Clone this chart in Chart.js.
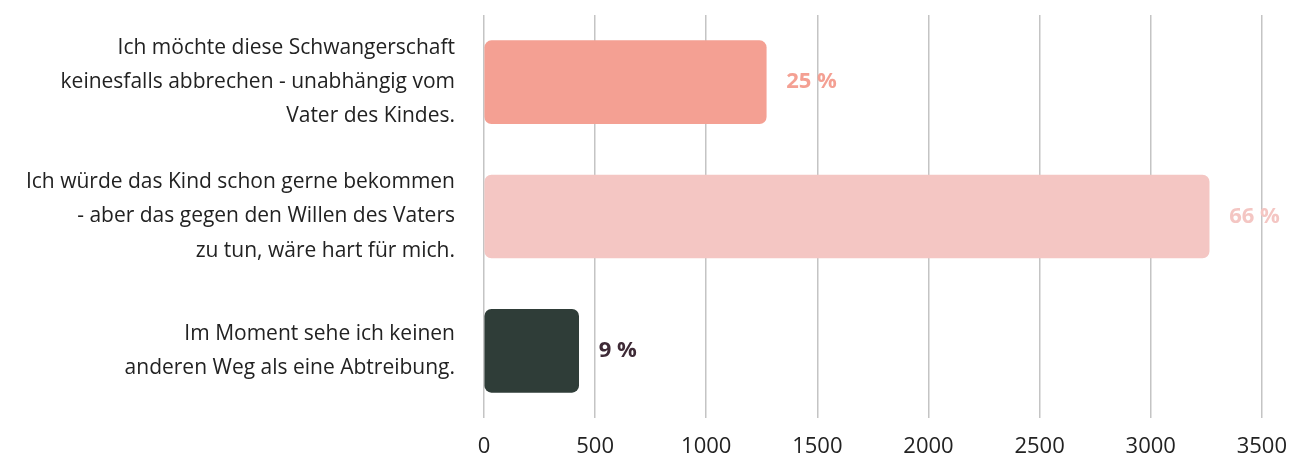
<!DOCTYPE html>
<html>
<head>
<meta charset="utf-8">
<script src="https://cdn.jsdelivr.net/npm/chart.js@4/dist/chart.umd.min.js"></script>
<style>
  html, body { margin: 0; padding: 0; background: #fff; }
  #wrap { width: 1303px; height: 457px; position: relative; }
</style>
</head>
<body>
<div id="wrap"><canvas id="chart"></canvas></div>
<script>
// Chart data
const categories = [
  ['Ich möchte diese Schwangerschaft', 'keinesfalls abbrechen - unabhängig vom', 'Vater des Kindes.'],
  ['Ich würde das Kind schon gerne bekommen', '- aber das gegen den Willen des Vaters', 'zu tun, wäre hart für mich.'],
  ['Im Moment sehe ich keinen', 'anderen Weg als eine Abtreibung.']
];
const counts = [1270, 3263, 426];
const percentLabels = ['25 %', '66 %', '9 %'];
const barColors = ['#F4A093', '#F4C6C3', '#2F3D38'];
const labelColors = ['#F4A093', '#F4C6C3', '#3E2A36'];

const FONT = "'Open Sans', sans-serif";

// draws the percentage next to each bar
const percentPlugin = {
  id: 'percentLabels',
  afterDatasetsDraw(chart) {
    const ctx = chart.ctx;
    const meta = chart.getDatasetMeta(0);
    ctx.save();
    ctx.font = `bold 22px ${FONT}`;
    ctx.textAlign = 'left';
    ctx.textBaseline = 'middle';
    meta.data.forEach((bar, i) => {
      ctx.fillStyle = labelColors[i];
      ctx.fillText(percentLabels[i], bar.x + 20, bar.y);
    });
    ctx.restore();
  }
};

new Chart(document.getElementById('chart'), {
  type: 'bar',
  data: {
    labels: categories,
    datasets: [{
      data: counts,
      backgroundColor: barColors,
      borderRadius: 7,
      borderSkipped: false,
      barThickness: 83
    }]
  },
  options: {
    indexAxis: 'y',
    responsive: true,
    maintainAspectRatio: false,
    animation: false,
    layout: { padding: { top: 15, right: 39, bottom: 0, left: 0 } },
    plugins: {
      legend: { display: false },
      tooltip: { enabled: false }
    },
    scales: {
      x: {
        min: 0,
        max: 3500,
        afterFit: (scale) => { scale.height = 39; },
        ticks: {
          stepSize: 500,
          color: '#222',
          padding: 16,
          maxRotation: 0,
          font: { family: FONT, size: 22 },
          callback: (v) => String(v)
        },
        grid: { color: '#c4c4c4', lineWidth: 1.5, drawTicks: false },
        border: { display: false }
      },
      y: {
        afterFit: (scale) => {
          scale.width = 484;
          scale.paddingTop = 0;
          scale.paddingBottom = 0;
        },
        ticks: {
          color: '#222',
          padding: 21,
          font: { family: FONT, size: 21, lineHeight: 1.63 }
        },
        grid: { display: false },
        border: { display: false }
      }
    }
  },
  plugins: [percentPlugin]
});
</script>
</body>
</html>
